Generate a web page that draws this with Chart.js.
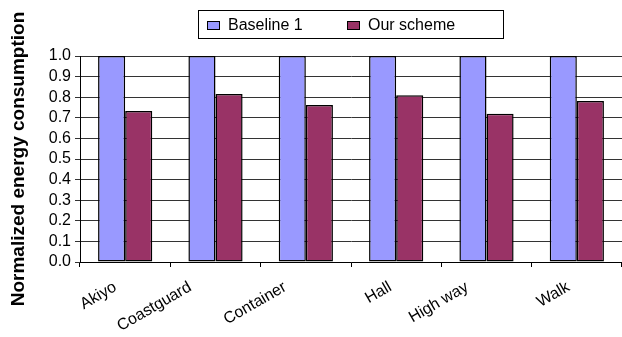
<!DOCTYPE html>
<html>
<head>
<meta charset="utf-8">
<script src="https://cdn.jsdelivr.net/npm/chart.js@4/dist/chart.umd.min.js"></script>
<style>
  html, body { margin: 0; padding: 0; background: #fff; }
  #wrap { width: 622px; height: 337px; position: relative; }
</style>
</head>
<body>
<div id="wrap"><canvas id="c" width="622" height="337"></canvas></div>
<script>
// Sequences and their normalized energy consumption
const categories = ['Akiyo', 'Coastguard', 'Container', 'Hall', 'High way', 'Walk'];
const baseline1 = [1.0, 1.0, 1.0, 1.0, 1.0, 1.0];
const ourScheme = [0.733, 0.815, 0.762, 0.81, 0.72, 0.781];
const seriesNames = ['Baseline 1', 'Our scheme'];
const yTicks = [0.0, 0.1, 0.2, 0.3, 0.4, 0.5, 0.6, 0.7, 0.8, 0.9, 1.0];

const FONT = '"Liberation Sans", Arial, Helvetica, sans-serif';
const LABEL_ANGLE = Math.PI / 6;

// Boxed legend drawn above the plot
const boxedLegend = {
  id: 'boxedLegend',
  afterDraw(chart) {
    const ctx = chart.ctx;
    const box = { x: 198.5, y: 10.5, w: 305, h: 28 };
    ctx.save();
    ctx.fillStyle = '#fff';
    ctx.fillRect(box.x, box.y, box.w, box.h);
    ctx.strokeStyle = '#000';
    ctx.lineWidth = 1;
    ctx.strokeRect(box.x, box.y, box.w, box.h);
    ctx.font = '16px ' + FONT;
    ctx.textBaseline = 'middle';
    const itemX = [207, 347];
    chart.data.datasets.forEach((ds, i) => {
      const sx = itemX[i] + 0.5;
      ctx.fillStyle = ds.backgroundColor;
      ctx.fillRect(sx, 21.5, 12, 8);
      ctx.strokeStyle = '#000';
      ctx.strokeRect(sx, 21.5, 12, 8);
      ctx.fillStyle = '#000';
      ctx.fillText(ds.label, itemX[i] + 21, 26);
    });
    ctx.restore();
  }
};

// Slanted category labels, each centred a little left of its category
// in proportion to its length
const slantedLabels = {
  id: 'slantedLabels',
  afterDraw(chart) {
    const xs = chart.scales.x;
    const ctx = chart.ctx;
    ctx.save();
    ctx.font = '16px ' + FONT;
    ctx.fillStyle = '#000';
    ctx.textAlign = 'right';
    ctx.textBaseline = 'middle';
    chart.data.labels.forEach((lab, i) => {
      const w = ctx.measureText(lab).width;
      const span = w * Math.cos(LABEL_ANGLE) + 6;
      const x = xs.getPixelForTick(i) + 6.5 - 0.41 * span;
      const y = xs.top + 24;
      ctx.save();
      ctx.translate(x, y);
      ctx.rotate(-LABEL_ANGLE);
      ctx.fillText(lab, 0, 0);
      ctx.restore();
    });
    ctx.restore();
  }
};

new Chart(document.getElementById('c'), {
  type: 'bar',
  data: {
    labels: categories,
    datasets: [
      {
        label: seriesNames[0],
        data: baseline1,
        backgroundColor: '#9999FF',
        borderColor: '#000',
        borderWidth: 1.5,
        borderSkipped: false
      },
      {
        label: seriesNames[1],
        data: ourScheme,
        backgroundColor: '#993366',
        borderColor: '#000',
        borderWidth: 1.5,
        borderSkipped: false
      }
    ]
  },
  options: {
    responsive: false,
    animation: false,
    devicePixelRatio: 1,
    datasets: { bar: { categoryPercentage: 0.6, barPercentage: 1.0 } },
    layout: { padding: { top: 56, left: 0, right: 0, bottom: 0 } },
    plugins: {
      legend: { display: false },
      tooltip: { enabled: false }
    },
    scales: {
      x: {
        grid: {
          offset: true,
          drawOnChartArea: false,
          drawTicks: true,
          tickLength: 5,
          color: '#000'
        },
        border: { display: true, color: '#000', width: 1 },
        ticks: { display: false, autoSkip: false },
        afterFit(scale) { scale.height = 75; }
      },
      y: {
        min: 0,
        max: 1,
        afterBuildTicks(scale) { scale.ticks = yTicks.map(v => ({ value: v })); },
        grid: {
          color: '#333',
          lineWidth: 1,
          tickLength: 5,
          drawTicks: true
        },
        border: { display: true, color: '#000', width: 1 },
        ticks: {
          color: '#000',
          font: { family: FONT, size: 16 },
          padding: 4,
          autoSkip: false,
          callback: v => Number(v).toFixed(1)
        },
        title: {
          display: true,
          text: 'Normalized energy consumption',
          color: '#000',
          font: { family: FONT, size: 19, weight: 'bold' },
          padding: { top: 7, bottom: 0 }
        },
        afterFit(scale) { scale.width = 80; }
      }
    }
  },
  plugins: [boxedLegend, slantedLabels]
});
</script>
</body>
</html>
